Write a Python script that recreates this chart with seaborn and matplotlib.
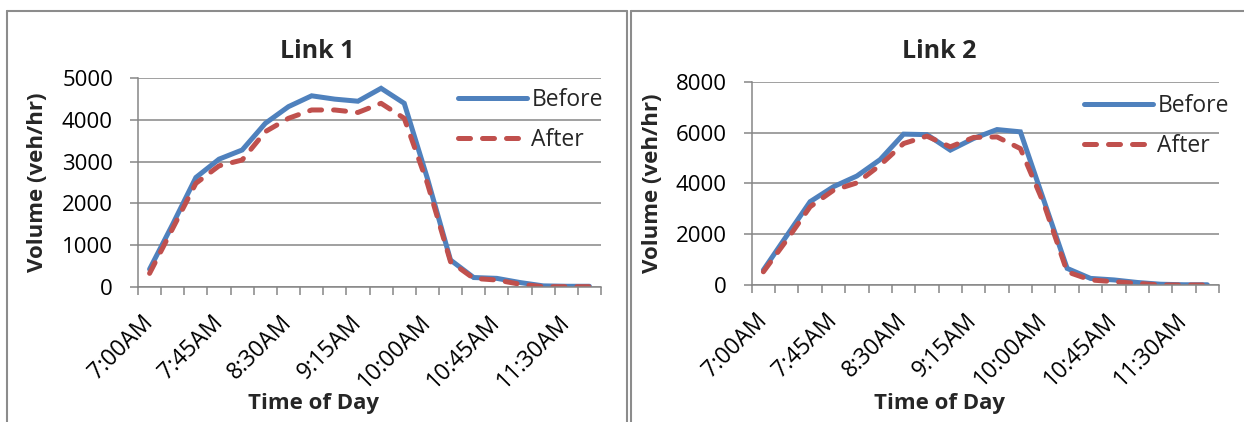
import matplotlib
matplotlib.use("Agg")
import matplotlib.pyplot as plt
from matplotlib.lines import Line2D
import seaborn as sns
import pandas as pd
import numpy as np

# ---- data ----
times = ["7:00AM", "7:15AM", "7:30AM", "7:45AM", "8:00AM", "8:15AM", "8:30AM",
         "8:45AM", "9:00AM", "9:15AM", "9:30AM", "9:45AM", "10:00AM", "10:15AM",
         "10:30AM", "10:45AM", "11:00AM", "11:15AM", "11:30AM", "11:45AM"]
tick_labels = ["7:00AM", "7:45AM", "8:30AM", "9:15AM", "10:00AM", "10:45AM", "11:30AM"]

link1_before = [420, 1500, 2620, 3060, 3280, 3920, 4320, 4580, 4500, 4450,
                4760, 4400, 2600, 640, 220, 200, 100, 20, 10, 10]
link1_after = [320, 1400, 2480, 2900, 3040, 3720, 4040, 4240, 4240, 4180,
               4400, 4040, 2480, 600, 200, 160, 60, 0, 0, 0]
link2_before = [590, 1940, 3280, 3870, 4290, 4940, 5940, 5920, 5310, 5770,
                6120, 6030, 3340, 655, 260, 200, 100, 30, 10, 10]
link2_after = [520, 1770, 3080, 3730, 4020, 4720, 5570, 5860, 5440, 5810,
               5830, 5370, 3210, 520, 200, 130, 65, 0, 0, 0]

panels = [
    ("Link 1", link1_before, link1_after, 5000, 1000),
    ("Link 2", link2_before, link2_after, 8000, 2000),
]

BLUE = "#4F81BD"
RED = "#C0504D"
GRID = "#868686"

sns.set_theme(style="white")
plt.rcParams["font.family"] = ["Open Sans", "DejaVu Sans"]

W, H = 1244, 422
fig = plt.figure(figsize=(W / 100, H / 100), dpi=100)

def px_rect(l, r, t, b):
    return [l / W, (H - b) / H, (r - l) / W, (b - t) / H]

ax_rects = [px_rect(138, 601, 78.3, 286.7), px_rect(751.7, 1219, 81.8, 285)]
legend_anchor = [(458, 120), (1084, 126)]
title_pos = [(317, 51), (939, 51)]
ylabel_x = [38, 652]
xlabel_pos = [(313, 404), (940, 404)]

x_idx = np.arange(len(times))

for i, (title, before, after, ymax, ystep) in enumerate(panels):
    rect = ax_rects[i]
    ax = fig.add_axes(rect)
    df = pd.DataFrame({
        "idx": np.concatenate([x_idx, x_idx]),
        "time": times + times,
        "vol": before + after,
        "series": ["Before"] * len(times) + ["After"] * len(times),
    })
    sns.lineplot(data=df[df.series == "Before"], x="idx", y="vol", color=BLUE,
                 linewidth=3.6, ax=ax, label="Before", legend=False)
    sns.lineplot(data=df[df.series == "After"], x="idx", y="vol", color=RED,
                 linewidth=3.6, ax=ax, label="After", legend=False)
    lb, la = ax.lines[0], ax.lines[1]
    lb.set_solid_joinstyle("miter")
    la.set_dashes((2.4, 2.4))
    la.set_dash_capstyle("round")

    ax.set_xlim(-0.5, len(times) - 0.5)
    ax.set_ylim(0, ymax)
    ax.set_yticks(np.arange(0, ymax + 1, ystep))
    ax.yaxis.grid(True, color=GRID, linewidth=1.1)
    ax.xaxis.grid(False)
    ax.set_axisbelow(True)
    for s in ["top", "right"]:
        ax.spines[s].set_visible(False)
    for s in ["left", "bottom"]:
        ax.spines[s].set_color(GRID)
        ax.spines[s].set_linewidth(1.1)

    # category boundary ticks
    ax.set_xticks(np.arange(-0.5, len(times) + 0.5, 1.0), minor=True)
    major_pos = [times.index(t) for t in tick_labels]
    ax.set_xticks(major_pos)
    ax.set_xticklabels(tick_labels, rotation=45, ha="right",
                       rotation_mode="anchor", va="center")
    ax.tick_params(axis="x", which="minor", length=6, width=1.1, color=GRID,
                   direction="out", bottom=True)
    ax.tick_params(axis="x", which="major", length=0, pad=23, labelsize=16.5,
                   labelcolor="black")
    ax.tick_params(axis="y", which="major", length=6, width=1.1, color=GRID,
                   direction="out", left=True, pad=12, labelsize=16,
                   labelcolor="black")

    l_px = rect[0] * W
    w_px = rect[2] * W
    b_px = H - rect[1] * H
    h_px = rect[3] * H

    tx, ty = title_pos[i]
    ax.set_title(title, fontsize=18, fontweight="bold", pad=0,
                 x=(tx - l_px) / w_px, y=(b_px - ty) / h_px, va="center")

    ax.set_ylabel("Volume (veh/hr)", fontsize=16, fontweight="bold")
    ax.yaxis.set_label_coords((ylabel_x[i] - l_px) / w_px, 0.5)
    ax.yaxis.label.set_va("center")
    xx, xy = xlabel_pos[i]
    ax.set_xlabel("Time of Day", fontsize=16, fontweight="bold")
    ax.xaxis.set_label_coords((xx - l_px) / w_px, (b_px - xy) / h_px)
    ax.xaxis.label.set_va("center")

    lx, ly = legend_anchor[i]
    ax.legend(handles=[lb, la], labels=["Before", "After"],
              loc="center left", bbox_to_anchor=(lx / W, (H - ly) / H),
              bbox_transform=fig.transFigure, frameon=False, fontsize=16.5,
              handlelength=3.0, handletextpad=0.2, labelspacing=0.72,
              borderpad=0, borderaxespad=0)

# panel borders
bc = "#8C8C8C"
blw = 1.5
def fline(x0, y0, x1, y1):
    fig.add_artist(Line2D([x0 / W, x1 / W], [(H - y0) / H, (H - y1) / H],
                          color=bc, linewidth=blw, transform=fig.transFigure))

fline(7, 10.5, 627.3, 10.5)
fline(7, 10.5, 7, H)
fline(627.3, 10.5, 627.3, H)
fline(630.7, 10.5, W, 10.5)
fline(630.7, 10.5, 630.7, H)

fig.savefig("out.png", dpi=100)
